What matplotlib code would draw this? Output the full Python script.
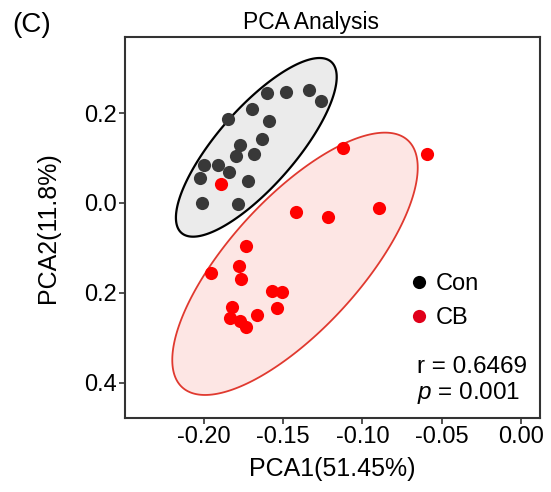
import numpy as np
import matplotlib.pyplot as plt
from matplotlib.lines import Line2D

plt.rcParams.update({
    "font.family": "Liberation Sans",
    "mathtext.fontset": "custom",
    "mathtext.it": "Liberation Sans:italic",
    "mathtext.rm": "Liberation Sans",
})

# ---------------------------------------------------------------------------
# DATA
# ---------------------------------------------------------------------------
con_x = [-0.1603, -0.1482, -0.1335, -0.1261, -0.1846, -0.1694, -0.1591, -0.1635,
         -0.1772, -0.1797, -0.1683, -0.1997, -0.1909, -0.1843, -0.2024, -0.1723,
         -0.2011, -0.1786]
con_y = [0.2451, 0.2473, 0.2511, 0.2267, 0.1860, 0.2082, 0.1822, 0.1416,
         0.1282, 0.1044, 0.1082, 0.0844, 0.0844, 0.0682, 0.0562, 0.0489,
         0.0007, -0.0029]

cb_x = [-0.1892, -0.1120, -0.0591, -0.1421, -0.1215, -0.0895, -0.1734, -0.1955,
        -0.1778, -0.1767, -0.1570, -0.1505, -0.1538, -0.1820, -0.1835, -0.1772,
        -0.1736, -0.1666]
cb_y = [0.0422, 0.1216, 0.1082, -0.0193, -0.0304, -0.0118, -0.0949, -0.1562,
        -0.1400, -0.1689, -0.1949, -0.1984, -0.2340, -0.2318, -0.2562, -0.2622,
        -0.2749, -0.2489]

# 95% ellipses: centre (x, y), spread (sx, sy) and correlation
con_ell = [-0.1669, 0.1237, 0.0507, 0.1986, 0.787]
cb_ell = [-0.1425, -0.1352, 0.0774, 0.2916, 0.733]

y_ticks = [0.2, 0.0, -0.2, -0.4]
y_labels = ["0.2", "0.0", "0.2", "0.4"]
x_ticks = [-0.20, -0.15, -0.10, -0.05, 0.00]
x_labels = ["-0.20", "-0.15", "-0.10", "-0.05", "0.00"]

CON_C = "#383838"
CB_C = "#ff0000"


def ellipse_xy(params, n=240):
    cx, cy, sx, sy, rho = params
    cov = np.array([[sx**2, rho*sx*sy], [rho*sx*sy, sy**2]])
    L = np.linalg.cholesky(cov)
    t = np.linspace(0, 2*np.pi, n)
    pts = L @ np.vstack([np.cos(t), np.sin(t)])
    return pts[0] + cx, pts[1] + cy


fig = plt.figure(figsize=(5.51, 4.92), dpi=100)
ax = fig.add_axes([0.2269, 0.1504, 0.7531, 0.7744])

ex, ey = ellipse_xy(con_ell)
ax.fill(ex, ey, facecolor="#ebebeb", edgecolor="black", linewidth=1.6, zorder=1)
ex, ey = ellipse_xy(cb_ell)
ax.fill(ex, ey, facecolor="#fde6e4", edgecolor="#e0392f", linewidth=1.3, zorder=2)

ax.scatter(con_x, con_y, s=90, color=CON_C, linewidths=0, zorder=3)
ax.scatter(cb_x, cb_y, s=90, color=CB_C, linewidths=0, zorder=3)

ax.set_xlim(-0.2497, 0.012)
ax.set_ylim(-0.478, 0.369)
ax.set_xticks(x_ticks)
ax.set_xticklabels(x_labels)
ax.set_yticks(y_ticks)
ax.set_yticklabels(y_labels)
ax.tick_params(labelsize=17, length=4, width=1.2, color="#333333", pad=2)
for sp in ax.spines.values():
    sp.set_color("#333333")
    sp.set_linewidth(1.5)

ax.set_xlabel("PCA1(51.45%)", fontsize=18, labelpad=6)
ax.set_ylabel("PCA2(11.8%)", fontsize=18, labelpad=17)

handles = [Line2D([0], [0], marker="o", linestyle="", markersize=9.5,
                  markerfacecolor="black", markeredgewidth=0, label="Con"),
           Line2D([0], [0], marker="o", linestyle="", markersize=9.5,
                  markerfacecolor="#e0001a", markeredgewidth=0, label="CB")]
ax.legend(handles=handles, loc="upper left", bbox_to_anchor=(0.652, 0.405),
          frameon=False, fontsize=17, handletextpad=0.1, labelspacing=0.5,
          borderaxespad=0, handlelength=1.2)

ax.text(0.703, 0.135, "r = 0.6469", transform=ax.transAxes, fontsize=17.5,
        va="center", ha="left")
ax.text(0.703, 0.065, "$p$ = 0.001", transform=ax.transAxes, fontsize=17.5,
        va="center", ha="left")

fig.text(311/551, 1 - 22/492, "PCA Analysis", fontsize=16.5, ha="center", va="center")
fig.text(12/551, 1 - 25/492, "(C)", fontsize=20, ha="left", va="center")

fig.savefig("out.png", dpi=100)
